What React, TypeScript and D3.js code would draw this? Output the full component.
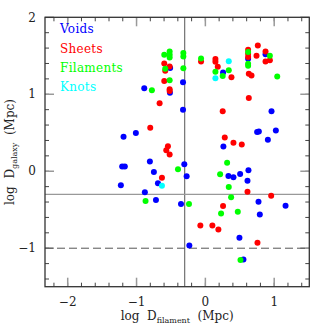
import React from 'react';
import * as d3 from 'd3';

// [log D_filament, log D_galaxy]
const voids: [number, number][] = [
  [-0.888, 1.078], [-0.325, 1.157], [-0.325, 0.8], [-0.515, 1.02], [-0.512, 1.34],
  [-1.189, 0.448], [-1.01, 0.496], [-1.209, 0.061], [-1.17, 0.061], [-0.806, 0.126],
  [-0.748, -0.009], [-0.689, -0.157], [-1.228, -0.183], [-0.879, -0.274], [-0.718, -0.374],
  [-0.354, -0.426], [-0.306, 0.091], [-0.272, -0.065], [-0.233, -0.965], [0.257, 1.283],
  [0.621, 1.46], [0.874, 1.52], [0.961, 0.778], [0.752, 0.509], [0.777, 0.517],
  [1.024, 0.53], [0.908, 0.409], [0.262, 0.322], [0.335, -0.061], [0.408, -0.078],
  [0.505, -0.035], [0.626, 0.013], [0.612, -0.122], [0.772, -0.396], [0.791, -0.561],
  [1.165, -0.448], [0.495, -0.865], [0.553, -1.148],
];

const sheets: [number, number][] = [
  [-0.597, 1.4], [-0.583, 1.304], [-0.519, 1.361], [-0.597, 1.174], [-0.519, 1.065],
  [-0.519, 1.043], [-0.665, 0.883], [-0.801, 0.565], [-0.544, 0.326], [-0.568, 0.274],
  [-0.519, 0.217], [-0.631, -0.083], [-0.063, 1.426], [0.146, 1.457], [0.146, 1.422],
  [0.18, 1.357], [0.252, 0.778], [0.282, 0.439], [-0.073, -0.704], [0.102, -0.704],
  [0.189, -0.757], [0.257, -0.452], [0.621, 1.578], [0.621, 1.526], [0.621, 1.483],
  [0.762, 1.635], [0.743, 1.5], [0.874, 1.557], [0.874, 1.426], [0.937, 1.443],
  [0.631, 1.265], [0.67, 1.243], [0.379, 1.222], [0.631, 0.952], [0.408, 0.37],
  [0.529, 0.348], [0.612, -0.265], [0.956, -0.317], [0.757, -0.93],
];

const filaments: [number, number][] = [
  [-0.597, 1.513], [-0.519, 1.557], [-0.519, 1.513], [-0.519, 1.478], [-0.32, 1.535],
  [-0.32, 1.491], [-0.32, 1.339], [-0.583, 1.33], [-0.519, 1.183], [-0.777, 1.052],
  [-0.063, 1.465], [0.146, 1.291], [0.252, 1.239], [0.621, 1.548], [0.621, 1.396],
  [0.621, 1.37], [0.937, 1.5], [0.34, 1.313], [1.044, 1.23], [-0.398, 0.026],
  [-0.869, -0.387], [-0.238, -0.426], [0.214, -0.039], [0.228, -0.548], [0.316, 0.109],
  [0.34, -0.204], [0.374, -0.339], [0.471, -0.526], [0.51, -1.152],
];

const knots: [number, number][] = [
  [0.34, 1.43], [0.146, 1.209], [-0.631, -0.187],
];

const groups = [
  { name: 'Voids', color: '#0000ff', points: voids },
  { name: 'Sheets', color: '#ff0000', points: sheets },
  { name: 'Filaments', color: '#00ff00', points: filaments },
  { name: 'Knots', color: '#00ffff', points: knots },
];

const xMajor = [-2, -1, 0, 1];
const yMajor = [-1, 0, 1, 2];
const xMinor = d3.range(-22, 16, 2).map(v => v / 10);
const yMinor = d3.range(-14, 20, 2).map(v => v / 10);
const refX = -0.3;
const refY = -0.3;
const dashY = -1;

const W = 327;
const H = 327;
const margin = { top: 17.3, right: 17.7, bottom: 40.3, left: 45 };

const App: React.FC = () => {
  const x = d3.scaleLinear().domain([-2.33, 1.51]).range([margin.left, W - margin.right]);
  const y = d3.scaleLinear().domain([-1.5, 2]).range([H - margin.bottom, margin.top]);
  const [x0, x1] = x.range();
  const [y0, y1] = y.range(); // y0 bottom, y1 top
  const font = "'DejaVu Serif', serif";

  return (
    <svg width={W} height={H} style={{ position: 'absolute', left: 0, top: 0, background: '#fff' }}>
      {/* minor ticks */}
      {xMinor.map(v => (
        <g key={'xm' + v} stroke="#444" strokeWidth={1}>
          <line x1={x(v)} x2={x(v)} y1={y0} y2={y0 - 4} />
          <line x1={x(v)} x2={x(v)} y1={y1} y2={y1 + 4} />
        </g>
      ))}
      {yMinor.map(v => (
        <g key={'ym' + v} stroke="#444" strokeWidth={1}>
          <line x1={x0} x2={x0 + 4} y1={y(v)} y2={y(v)} />
          <line x1={x1} x2={x1 - 4} y1={y(v)} y2={y(v)} />
        </g>
      ))}
      {/* major ticks */}
      {xMajor.map(v => (
        <g key={'xM' + v} stroke="#999" strokeWidth={1.5}>
          <line x1={x(v)} x2={x(v)} y1={y0} y2={y0 - 9} />
          <line x1={x(v)} x2={x(v)} y1={y1} y2={y1 + 9} />
        </g>
      ))}
      {yMajor.map(v => (
        <g key={'yM' + v} stroke="#999" strokeWidth={1.5}>
          <line x1={x0} x2={x0 + 9} y1={y(v)} y2={y(v)} />
          <line x1={x1} x2={x1 - 9} y1={y(v)} y2={y(v)} />
        </g>
      ))}

      {/* reference lines */}
      <line x1={x(refX)} x2={x(refX)} y1={y0} y2={y1} stroke="#555" strokeWidth={1} />
      <line x1={x0} x2={x1} y1={y(refY)} y2={y(refY)} stroke="#999" strokeWidth={1.2} />
      <line x1={x0} x2={x1} y1={y(dashY)} y2={y(dashY)} stroke="#555" strokeWidth={1} strokeDasharray="8,4" />

      {/* frame */}
      <rect x={x0} y={y1} width={x1 - x0} height={y0 - y1} fill="none" stroke="#333" strokeWidth={1.3} />

      {/* points */}
      {groups.map(g => (
        <g key={g.name} fill={g.color}>
          {g.points.map((p, i) => (
            <circle key={i} cx={x(p[0])} cy={y(p[1])} r={3} />
          ))}
        </g>
      ))}

      {/* legend */}
      {groups.map((g, i) => (
        <text key={'lg' + g.name} x={60} y={33.3 + i * 19.3} fill={g.color}
          fontFamily={font} fontSize={12} letterSpacing={0.3}>{g.name}</text>
      ))}

      {/* tick labels */}
      {xMajor.map(v => (
        <text key={'xl' + v} x={x(v)} y={306} textAnchor="middle" fontFamily={font} fontSize={12} fill="#222">
          {v < 0 ? '\u2212' + Math.abs(v) : v}
        </text>
      ))}
      {yMajor.map(v => (
        <text key={'yl' + v} x={36} y={y(v)} dy="0.35em" textAnchor="end" fontFamily={font} fontSize={12} fill="#222">
          {v < 0 ? '\u2212' + Math.abs(v) : v}
        </text>
      ))}

      {/* axis titles */}
      <text x={(x0 + x1) / 2} y={320} textAnchor="middle" fontFamily={font} fontSize={12} fill="#222"
        style={{ whiteSpace: 'pre' }}>
        log  D<tspan fontSize={8} dy={3}>filament</tspan><tspan dy={-3}>  (Mpc)</tspan>
      </text>
      <text transform={`translate(14,${(y0 + y1) / 2}) rotate(-90)`} textAnchor="middle" fontFamily={font}
        fontSize={12} fill="#222" style={{ whiteSpace: 'pre' }}>
        log  D<tspan fontSize={8} dy={3}>galaxy</tspan><tspan dy={-3}>  (Mpc)</tspan>
      </text>
    </svg>
  );
};

export default App;
